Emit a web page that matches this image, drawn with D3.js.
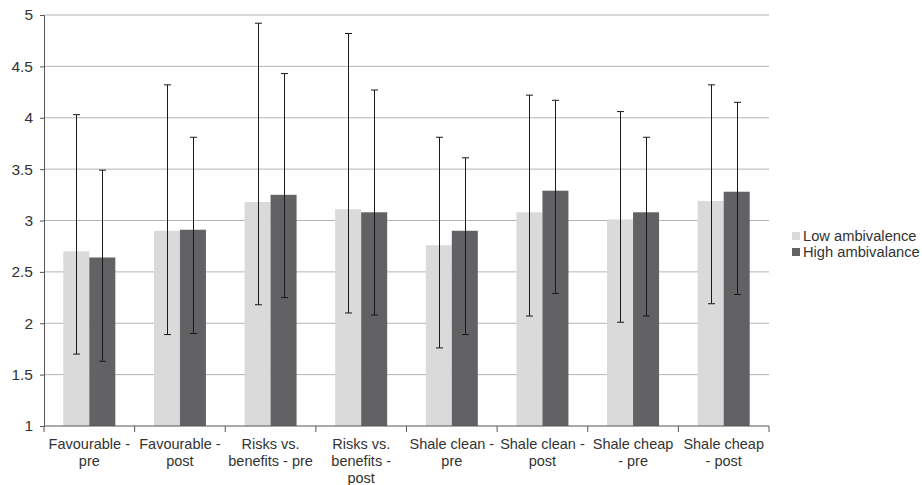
<!DOCTYPE html>
<html>
<head>
<meta charset="utf-8">
<script src="https://cdn.jsdelivr.net/npm/d3@7"></script>
<style>
  body { margin: 0; background: #fff; }
  text { font-family: "Liberation Sans", Arial, sans-serif; fill: #333; }
</style>
</head>
<body>
<svg id="chart" width="922" height="485"></svg>
<script>
// category labels, already split into the lines they wrap onto
const categories = [
  ["Favourable -", "pre"],
  ["Favourable -", "post"],
  ["Risks vs.", "benefits - pre"],
  ["Risks vs.", "benefits -", "post"],
  ["Shale clean -", "pre"],
  ["Shale clean -", "post"],
  ["Shale cheap", "- pre"],
  ["Shale cheap", "- post"],
];
const seriesNames = ["Low ambivalence", "High ambivalance"];

const lowValues = [2.70, 2.90, 3.18, 3.11, 2.76, 3.08, 3.01, 3.19];
const lowErrTop = [4.03, 4.32, 4.92, 4.82, 3.81, 4.22, 4.06, 4.32];
const lowErrBottom = [1.70, 1.89, 2.18, 2.10, 1.76, 2.07, 2.01, 2.19];

const highValues = [2.64, 2.91, 3.25, 3.08, 2.90, 3.29, 3.08, 3.28];
const highErrTop = [3.49, 3.81, 4.43, 4.27, 3.61, 4.17, 3.81, 4.15];
const highErrBottom = [1.63, 1.90, 2.25, 2.08, 1.89, 2.29, 2.07, 2.28];

const yTicks = [1, 1.5, 2, 2.5, 3, 3.5, 4, 4.5, 5];

const colors = ["#dadadb", "#626264"];

const series = [
  { values: lowValues, top: lowErrTop, bottom: lowErrBottom },
  { values: highValues, top: highErrTop, bottom: highErrBottom },
];

const margin = { top: 15, right: 153, bottom: 59, left: 44 };
const svg = d3.select("#chart");
const width = 922 - margin.left - margin.right;
const height = 485 - margin.top - margin.bottom;

const g = svg.append("g")
  .attr("transform", "translate(" + margin.left + "," + margin.top + ")");

const x0 = d3.scaleBand()
  .domain(d3.range(categories.length))
  .range([0, width]);

const groupWidth = x0.bandwidth() * 0.574;
const x1 = d3.scaleBand()
  .domain(d3.range(series.length))
  .range([0, groupWidth]);
const groupOffset = (x0.bandwidth() - groupWidth) / 2;

const y = d3.scaleLinear().domain([1, 5]).range([height, 0]);

// gridlines
g.append("g")
  .selectAll("line")
  .data(yTicks.filter((d) => d > 1))
  .enter()
  .append("line")
  .attr("x1", 0)
  .attr("x2", width)
  .attr("y1", (d) => y(d))
  .attr("y2", (d) => y(d))
  .attr("stroke", "#b4b4b4")
  .attr("stroke-width", 1);

// bars
series.forEach((s, si) => {
  g.append("g")
    .selectAll("rect")
    .data(s.values)
    .enter()
    .append("rect")
    .attr("x", (d, i) => x0(i) + groupOffset + x1(si))
    .attr("y", (d) => y(d))
    .attr("width", x1.bandwidth())
    .attr("height", (d) => y(1) - y(d))
    .attr("fill", colors[si]);
});

// error bars
series.forEach((s, si) => {
  const eg = g.append("g").attr("stroke", "#1a1a1a").attr("stroke-width", 1);
  s.values.forEach((v, i) => {
    const cx = Math.round(x0(i) + groupOffset + x1(si) + x1.bandwidth() / 2) + 0.5;
    eg.append("line")
      .attr("x1", cx).attr("x2", cx)
      .attr("y1", y(s.top[i])).attr("y2", y(s.bottom[i]));
    [s.top[i], s.bottom[i]].forEach((e) => {
      eg.append("line")
        .attr("x1", cx - 3.5).attr("x2", cx + 3.5)
        .attr("y1", y(e)).attr("y2", y(e));
    });
  });
});

// y axis
const yAxis = g.append("g")
  .call(d3.axisLeft(y).tickValues(yTicks).tickFormat(d3.format("")).tickSize(4).tickPadding(7));
yAxis.select(".domain").attr("stroke", "#555");
yAxis.selectAll(".tick line").attr("stroke", "#555");
yAxis.selectAll("text").style("font-size", "15.5px").attr("fill", "#333");

// x axis
const xAxis = g.append("g")
  .attr("transform", "translate(0," + height + ")");
xAxis.append("line")
  .attr("x1", 0).attr("x2", width)
  .attr("stroke", "#555");
xAxis.selectAll(".xtick")
  .data(d3.range(categories.length + 1))
  .enter()
  .append("line")
  .attr("x1", (d) => d * x0.step())
  .attr("x2", (d) => d * x0.step())
  .attr("y1", 0)
  .attr("y2", 6)
  .attr("stroke", "#555");

xAxis.selectAll(".xlabel")
  .data(categories)
  .enter()
  .append("text")
  .attr("text-anchor", "middle")
  .attr("transform", (d, i) => "translate(" + (x0(i) + x0.bandwidth() / 2) + ",22.5)")
  .style("font-size", "14.5px")
  .each(function (lines) {
    d3.select(this)
      .selectAll("tspan")
      .data(lines)
      .enter()
      .append("tspan")
      .attr("x", 0)
      .attr("y", (d, j) => j * 17)
      .text((d) => d);
  });

// legend
const legend = svg.append("g").attr("transform", "translate(792,232)");
seriesNames.forEach((name, i) => {
  const row = legend.append("g").attr("transform", "translate(0," + i * 16 + ")");
  row.append("rect")
    .attr("width", 8)
    .attr("height", 8)
    .attr("fill", colors[i]);
  row.append("text")
    .attr("x", 11)
    .attr("y", 9)
    .style("font-size", "14.7px")
    .text(name);
});
</script>
</body>
</html>
